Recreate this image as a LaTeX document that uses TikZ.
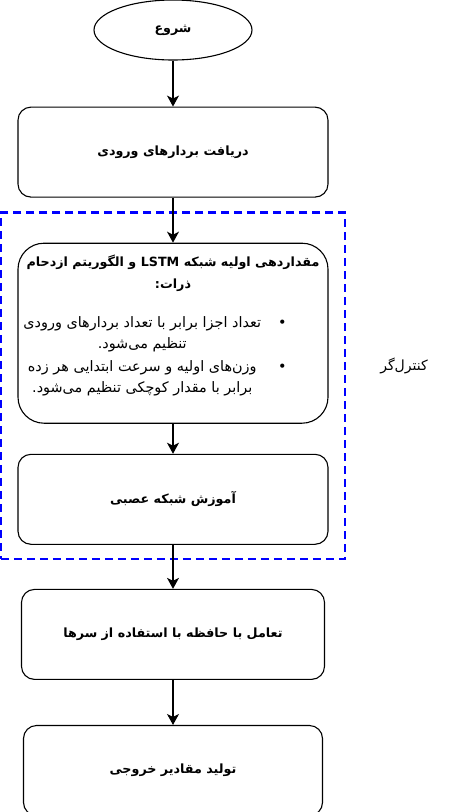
\documentclass[tikz,border=0pt]{standalone}
\usepackage{fontspec}
\usetikzlibrary{arrows.meta,positioning,shapes.geometric,fit}
\TeXXeTstate=1
\newfontfamily\fa[Script=Arabic]{DejaVu Sans}

\begin{document}
\begin{tikzpicture}[
    x=1pt, y=1pt,
    flowbox/.style={draw, line width=1.1pt, rounded corners=13pt, minimum width=310pt, minimum height=90pt, align=center, font=\fa\bfseries\fontsize{12.7}{22}\selectfont},
    startnode/.style={draw, ellipse, line width=1.1pt, minimum width=158pt, minimum height=60pt, font=\fa\bfseries\fontsize{12.7}{22}\selectfont},
    ctrlbox/.style={draw=blue, dash pattern=on 8pt off 5pt, line width=2.4pt, inner xsep=16.5pt, inner ysep=22pt},
    rel/.style={-{Stealth[length=11pt, width=12pt, inset=3pt]}, line width=1.1pt},
    note/.style={font=\fa\fontsize{14}{21}\selectfont}
]
\useasboundingbox (0,0) rectangle (450,-812);

\node[startnode] (start) at (173,-30) {\beginR شروع\endR};
\node[flowbox, below=46pt of start] (recv) {\beginR دریافت بردارهای ورودی\endR};
\node[flowbox, below=45pt of recv, minimum height=180pt, rounded corners=26pt] (init) {%
  \begin{tabular}{@{}c@{}}
    \beginR مقداردهی اولیه شبکه \beginL LSTM\endL{} و الگوریتم ازدحام\endR\\
    \beginR ذرات:\endR\\[18pt]
    \mdseries\fontsize{14.4}{21}\selectfont
    \begin{tabular}{@{}c@{\hspace{17pt}}c@{\hspace{36pt}}}
      \beginR تعداد اجزا برابر با تعداد بردارهای ورودی\endR & \Large •\\
      \beginR تنظیم می‌شود.\endR & \\[2pt]
      \beginR وزن‌های اولیه و سرعت ابتدایی هر زده\endR & \Large •\\
      \beginR برابر با مقدار کوچکی تنظیم می‌شود.\endR &
    \end{tabular}\\[-6pt]
    \mbox{}
  \end{tabular}};
\node[flowbox, below=30pt of init] (train) {\beginR آموزش شبکه عصبی\endR};
\node[flowbox, below=44pt of train, minimum width=303pt] (mem) {\beginR تعامل با حافظه با استفاده از سرها\endR};
\node[flowbox, below=45pt of mem, minimum width=299pt] (out) {\beginR تولید مقادیر خروجی\endR};

\node[ctrlbox, fit=(init)(train), yshift=8pt] (ctrl) {};
\node[note] (ctrllbl) at (404,-366) {\beginR کنترل‌گر\endR};

\draw[rel] (start) -- (recv);
\draw[rel] (recv) -- (init);
\draw[rel] (init) -- (train);
\draw[rel] (train) -- (mem);
\draw[rel] (mem) -- (out);
\end{tikzpicture}
\end{document}
